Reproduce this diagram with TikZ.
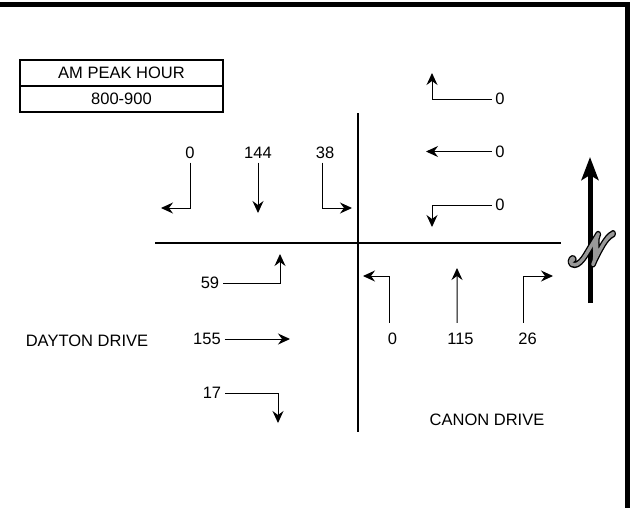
\documentclass[tikz,border=0pt]{standalone}
\usepackage{fontspec}
\setmainfont{Liberation Sans}
\usepackage{mathrsfs}
\usepackage{tikz}
\usetikzlibrary{arrows.meta,positioning}
\tikzset{
  road/.style={line width=0.45mm},
  frame/.style={line width=1mm},
  vol/.style={font=\fontsize{9.4}{11}\selectfont, inner sep=2pt},
  street/.style={font=\fontsize{9.4}{11}\selectfont},
  pbox/.style={draw, line width=0.4mm, outer sep=0pt, inner sep=0pt, minimum width=40.6mm, minimum height=5.2mm, font=\fontsize{9.4}{11}\selectfont},
  mv/.style={-{Stealth[length=2.4mm,width=2.2mm,inset=0.8mm]}, line width=0.2mm},
  mvup/.style={mv, shorten <=1.3mm},
  narrow/.style={-{Stealth[length=4.6mm,width=3.4mm,inset=1mm]}, line width=1mm}
}
% outlined script N: wide black stroke, then narrower grey stroke on top
\newcommand{\outlineN}{%
  \rlap{\special{pdf:literal direct 0 g 0 G 2 Tr 3.2 w 1 j}$\mathscr{N}$\special{pdf:literal direct 0 Tr}}%
  \special{pdf:literal direct 0.6 g 0.6 G 2 Tr 1.5 w 1 j}$\mathscr{N}$\special{pdf:literal direct 0 Tr}}

\begin{document}
\begin{tikzpicture}[x=0.2mm,y=-0.2mm]
\useasboundingbox (0,0) rectangle (633,508);
\draw[frame] (0,4.5) -- (627,4.5) -- (627,508);

% peak hour box
\node[pbox] (peak) at (121.5,73) {AM PEAK HOUR};
\node[pbox, below=0pt of peak] (hour) {800-900};

% streets
\coordinate (rw) at (155,243);
\coordinate (re) at (561,243);
\coordinate (rn) at (358,113);
\coordinate (rs) at (358,432);
\draw[road] (rw) -- (re);
\draw[road] (rn) -- (rs);
\node[street] (dayton) at (87,341) {DAYTON DRIVE};
\node[street] (canon) at (487,420) {CANON DRIVE};

% southbound
\node[vol] (sbr) at (190,153) {0};
\node[vol] (sbt) at (258,153) {144};
\node[vol] (sbl) at (325,153) {38};
\coordinate (sbr-tip) at (161,208);
\coordinate (sbt-tip) at (258,213);
\coordinate (sbl-tip) at (352,208);
\draw[mv] (sbr.south) |- (sbr-tip);
\draw[mv] (sbt.south) -- (sbt-tip);
\draw[mv] ([xshift=-0.6mm]sbl.south) |- (sbl-tip);

% westbound
\node[vol] (wbr) at (500,99) {0};
\node[vol] (wbt) at (500,151.5) {0};
\node[vol] (wbl) at (500,205) {0};
\coordinate (wbr-tip) at (432,73);
\coordinate (wbt-tip) at (426,151.5);
\coordinate (wbl-tip) at (432,227);
\draw[mv] (wbr.west) -| (wbr-tip);
\draw[mv] (wbt.west) -- (wbt-tip);
\draw[mv] (wbl.west) -| (wbl-tip);

% northbound
\node[vol] (nbl) at (392.5,339) {0};
\node[vol] (nbt) at (460.5,339) {115};
\node[vol] (nbr) at (527.5,339) {26};
\coordinate (nbl-tip) at (363,276);
\coordinate (nbt-tip) at (457,268);
\coordinate (nbr-tip) at (553,276);
\draw[mvup] ([xshift=-0.7mm]nbl.north) |- (nbl-tip);
\draw[mvup] ([xshift=-0.7mm]nbt.north) -- (nbt-tip);
\draw[mvup] ([xshift=-0.9mm]nbr.north) |- (nbr-tip);

% eastbound
\node[vol] (ebl) at (210,283) {59};
\node[vol] (ebt) at (207,339) {155};
\node[vol] (ebr) at (212,393) {17};
\coordinate (ebl-tip) at (280,254);
\coordinate (ebt-tip) at (290,339);
\coordinate (ebr-tip) at (278,423);
\draw[mv] (ebl.east) -| (ebl-tip);
\draw[mv] (ebt.east) -- (ebt-tip);
\draw[mv] (ebr.east) -| (ebr-tip);

% north arrow
\coordinate (nbase) at (590,303);
\coordinate (ntip) at (590,157);
\draw[narrow] (nbase) -- (ntip);
\node[font=\fontsize{25}{25}\selectfont, xscale=0.85, inner sep=0pt] (nlogo) at (592,249) {\outlineN};
\end{tikzpicture}
\end{document}
